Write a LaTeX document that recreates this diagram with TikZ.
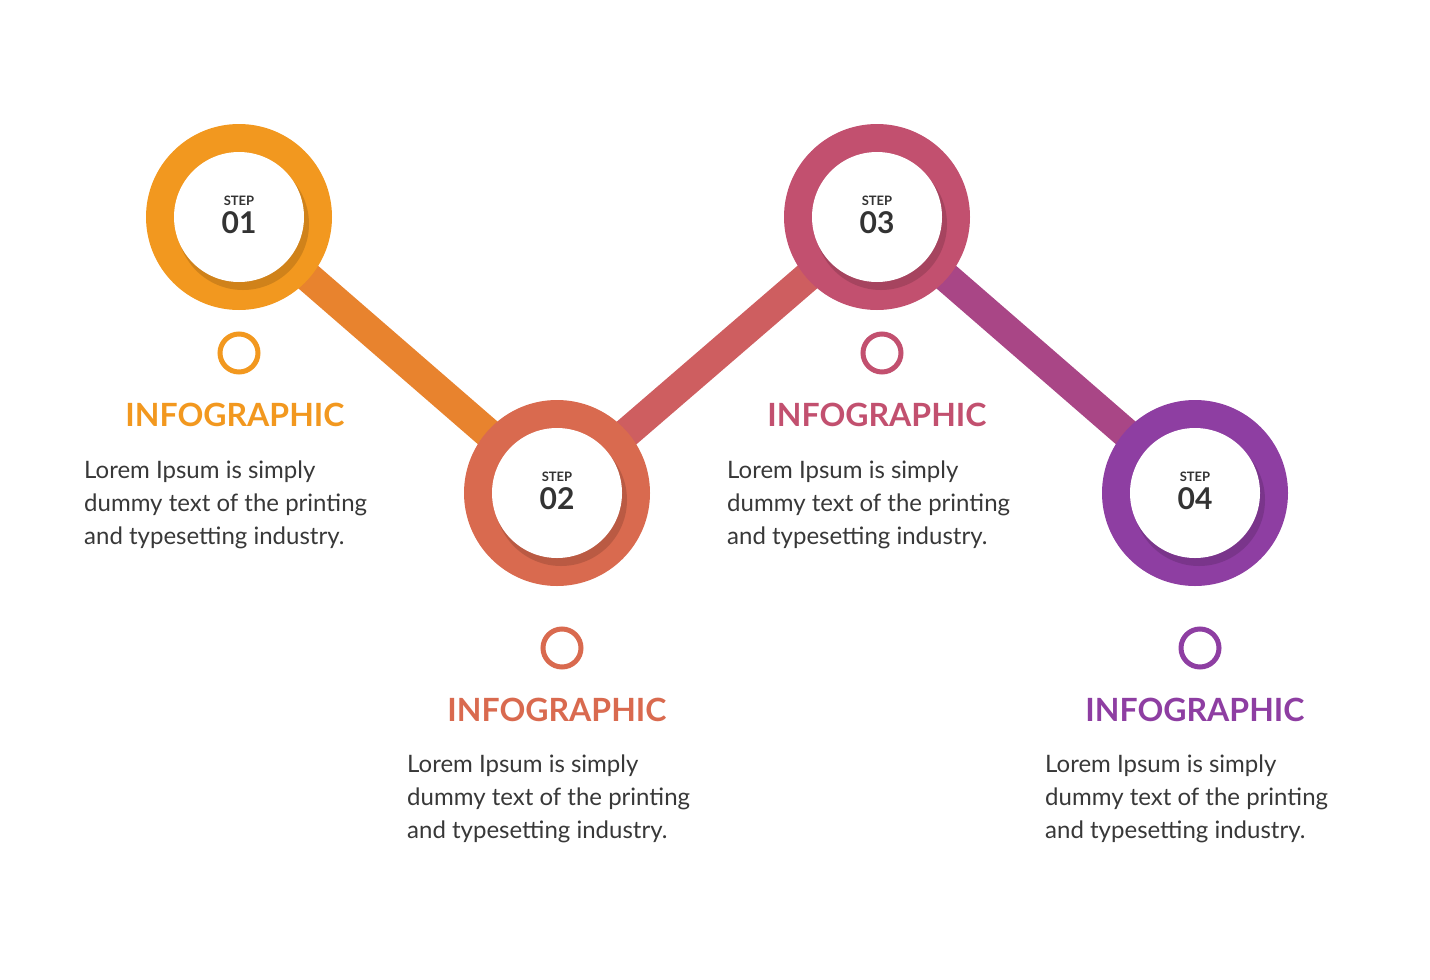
\documentclass[tikz,border=0pt]{standalone}
\usepackage{fontspec}
\setmainfont{Lato}
\usetikzlibrary{calc}
\begin{document}
\begin{tikzpicture}[x=1pt,y=-1pt,
  title/.style={font=\fontsize{32}{36}\selectfont\bfseries},
  body/.style={font=\fontsize{24}{33}\selectfont, text=black!78, align=left, anchor=north west, inner sep=0pt},
  ring/.style={line width=5pt, fill=white},
  inner/.style={circle, fill=white, minimum size=130pt, inner sep=0pt},
  steplbl/.style={font=\fontsize{13}{13}\selectfont\bfseries, text=black!80, inner sep=0pt},
  numlbl/.style={font=\fontsize{30}{30}\selectfont\bfseries, text=black!80, inner sep=0pt}]
\useasboundingbox (0,0) rectangle (1430,980);
\definecolor{cA}{HTML}{F2981F}\definecolor{cB}{HTML}{D96A4F}
\definecolor{cC}{HTML}{C2506F}\definecolor{cD}{HTML}{8E3EA2}
\definecolor{cAB}{HTML}{E8832E}\definecolor{cBC}{HTML}{CE5E60}\definecolor{cCD}{HTML}{A94686}
\coordinate (c1) at (239,217);\coordinate (c2) at (557,493);
\coordinate (c3) at (877,217);\coordinate (c4) at (1195,493);
\draw[cAB, line width=30pt] (c1) -- (c2);
\draw[cBC, line width=30pt] (c2) -- (c3);
\draw[cCD, line width=30pt] (c3) -- (c4);
\foreach \c/\col/\n/\sx/\sy in {c1/cA/01/239/353, c2/cB/02/562/648, c3/cC/03/882/353, c4/cD/04/1200/648}{
  \fill[\col] (\c) circle (93);
  \fill[\col!60!black, opacity=0.35] ($(\c)+(4,7)$) circle (66);
  \node[inner] (n\n) at (\c) {};
  \node[steplbl] (s\n) at ($(\c)+(0,-16)$) {STEP};
  \node[numlbl] (m\n) at ($(\c)+(0,6)$) {\n};
  \draw[ring, draw=\col] (\sx,\sy) circle (19);
}
\node[title, text=cA] (t1) at (235,415) {INFOGRAPHIC};
\node[title, text=cB] (t2) at (557,710) {INFOGRAPHIC};
\node[title, text=cC] (t3) at (877,415) {INFOGRAPHIC};
\node[title, text=cD] (t4) at (1195,710) {INFOGRAPHIC};
\node[body] (b1) at (84,461) {Lorem Ipsum is simply\\dummy text of the printing\\and typesetting industry.};
\node[body] (b2) at (407,755) {Lorem Ipsum is simply\\dummy text of the printing\\and typesetting industry.};
\node[body] (b3) at (727,461) {Lorem Ipsum is simply\\dummy text of the printing\\and typesetting industry.};
\node[body] (b4) at (1045,755) {Lorem Ipsum is simply\\dummy text of the printing\\and typesetting industry.};
\end{tikzpicture}
\end{document}
